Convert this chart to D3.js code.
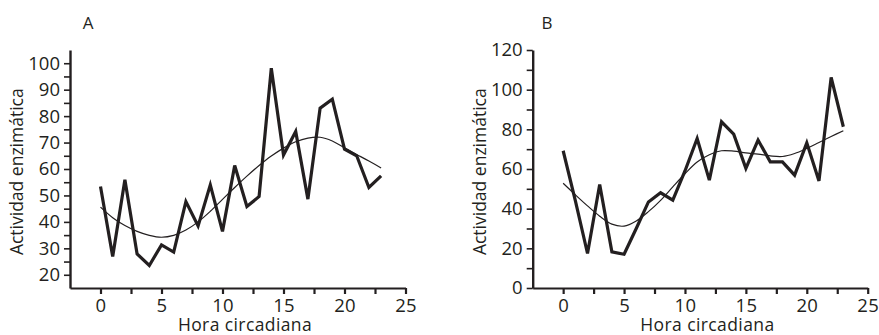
<!DOCTYPE html>
<html><head><meta charset="utf-8">
<script src="https://cdn.jsdelivr.net/npm/d3@7"></script>
<style>
html,body{margin:0;padding:0;background:#fff;}
svg{display:block;}
text{font-family:"Open Sans","DejaVu Sans",sans-serif;fill:#231f20;}
</style></head>
<body>
<svg id="c" width="879" height="335"></svg>
<script>
const hours = [0,1,2,3,4,5,6,7,8,9,10,11,12,13,14,15,16,17,18,19,20,21,22,23];
const seriesA = [53.4,26.9,55.9,27.9,23.5,31.3,28.6,47.7,38.5,54,36.4,61.3,45.8,49.6,98.1,65.3,74.2,48.6,83,86.4,67.5,65,53,57.4];
const fitA = [45.6,41.6,38.6,36.4,34.9,34.2,34.9,36.9,40,44,48.5,53,57.3,61.3,64.9,67.9,70.3,71.7,72,70.6,68,65.5,63,60.4];
const seriesB = [69.2,44,17.4,52.2,18.2,17,30,43.4,48,44.3,59,75.4,54.4,83.8,77.6,60.3,74.6,63.6,63.6,56.9,73.2,54,106.2,81.3];
const fitB = [52.8,47,41.4,36.2,32.2,31.2,33.8,38.5,44.2,51,57.6,63.5,67.2,69.2,69,68.1,67.5,66.6,66.3,67.8,70.4,73.4,76.4,79.3];
const xTicks = [0,2.5,5,7.5,10,12.5,15,17.5,20,22.5,25];
const xLabels = [0,5,10,15,20,25];
const yTicksA = [20,25,30,35,40,45,50,55,60,65,70,75,80,85,90,95,100];
const yLabelsA = [20,30,40,50,60,70,80,90,100];
const yTicksB = [0,10,20,30,40,50,60,70,80,90,100,110,120];
const yLabelsB = [0,20,40,60,80,100,120];
const xTitle = "Hora circadiana";
const yTitle = "Actividad enzimática";

const svg = d3.select("#c");

function panel(opt){
  const g = svg.append("g");
  const x = d3.scaleLinear().domain([-2.5,25]).range([opt.x0, opt.x1]);
  const y = d3.scaleLinear().domain(opt.ydom).range([288, 50]);
  const col = "#231f20";
  // x axis
  const xa = g.append("g").attr("transform","translate(0,288)")
    .call(d3.axisBottom(x).tickValues(xTicks).tickSize(6).tickFormat(d => xLabels.includes(d) ? d : "").tickSizeOuter(0).tickPadding(5));
  xa.select(".domain").attr("stroke",col).attr("stroke-width",2.2);
  xa.selectAll(".tick line").attr("stroke",col).attr("stroke-width",2.2);
  xa.selectAll(".tick text").attr("font-size",18.5).attr("letter-spacing",0.3).attr("fill",col).attr("font-family",null);
  // y axis
  const ya = g.append("g").attr("transform",`translate(${opt.x0},0)`)
    .call(d3.axisLeft(y).tickValues(opt.yticks).tickSize(6).tickFormat(d => opt.ylabels.includes(d) ? d : "").tickSizeOuter(0).tickPadding(4));
  ya.select(".domain").attr("stroke",col).attr("stroke-width",2.4);
  ya.selectAll(".tick line").attr("stroke",col).attr("stroke-width",1.6);
  ya.selectAll(".tick text").attr("font-size",18.5).attr("fill",col).attr("font-family",null);
  // data line
  const line = d3.line().x((d,i)=>x(hours[i])).y(d=>y(d));
  g.append("path").datum(opt.data).attr("d",line).attr("fill","none")
    .attr("stroke",col).attr("stroke-width",3.2).attr("stroke-linejoin","miter");
  const sm = d3.line().x((d,i)=>x(hours[i])).y(d=>y(d)).curve(d3.curveCatmullRom);
  g.append("path").datum(opt.fit).attr("d",sm).attr("fill","none")
    .attr("stroke",col).attr("stroke-width",1.2);
  // titles
  g.append("text").attr("x",(x(0)+x(25))/2 - 8).attr("y",331).attr("text-anchor","middle")
    .attr("font-size",17.5).attr("letter-spacing",0.4).text(xTitle);
  g.append("text").attr("transform",`translate(${opt.x0-47},171.7) rotate(-90)`)
    .attr("text-anchor","middle").attr("font-size",17.5).text(yTitle);
  g.append("text").attr("x",opt.lx).attr("y",28.5).attr("text-anchor","middle")
    .attr("font-size",17).text(opt.label);
}

panel({x0:70, x1:405.5, ydom:[15,105], yticks:yTicksA, ylabels:yLabelsA, data:seriesA, fit:fitA, label:"A", lx:88});
panel({x0:532.7, x1:867.7, ydom:[0,120], yticks:yTicksB, ylabels:yLabelsB, data:seriesB, fit:fitB, label:"B", lx:547});
</script>
</body></html>
